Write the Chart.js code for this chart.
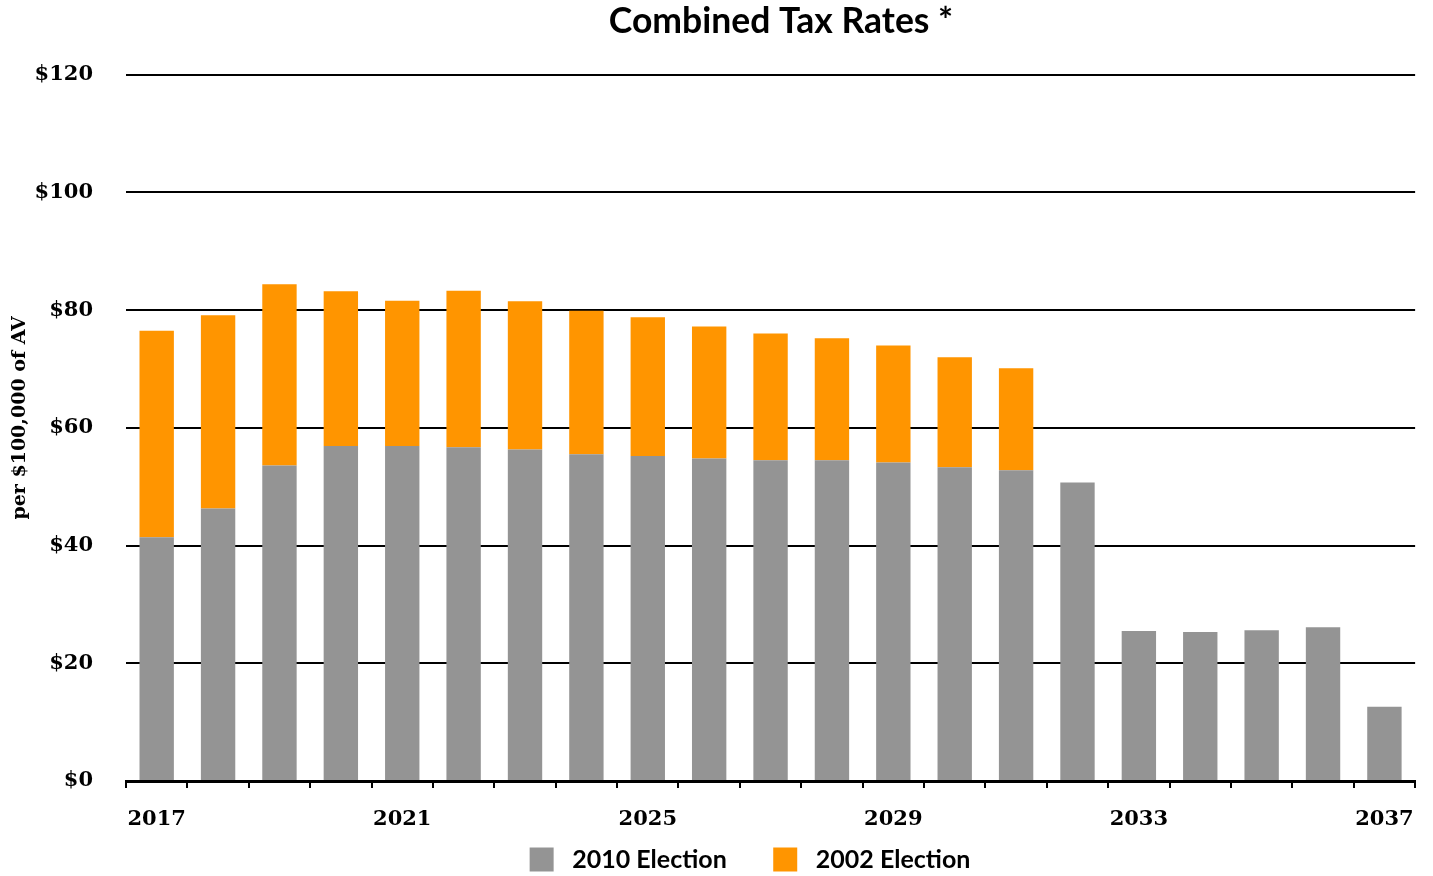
<!DOCTYPE html>
<html>
<head>
<meta charset="utf-8">
<script src="https://cdn.jsdelivr.net/npm/chart.js@4.4.0/dist/chart.umd.min.js"></script>
<style>
  html, body { margin: 0; padding: 0; background: #fff; }
  #wrap { width: 1433px; height: 876px; position: relative; }
</style>
</head>
<body>
<div id="wrap"><canvas id="myChart"></canvas></div>
<script>
// anos no eixo x
var years = ['2017','2018','2019','2020','2021','2022','2023','2024','2025','2026','2027',
             '2028','2029','2030','2031','2032','2033','2034','2035','2036','2037'];
// parcela da eleição de 2010 (cinza)
var election2010 = [41.4, 46.3, 53.6, 56.9, 56.9, 56.7, 56.3, 55.5, 55.2, 54.8, 54.5,
                    54.5, 54.1, 53.3, 52.8, 50.7, 25.5, 25.3, 25.6, 26.1, 12.6];
// parcela da eleição de 2002 (laranja)
var election2002 = [35.1, 32.8, 30.8, 26.3, 24.7, 26.6, 25.2, 24.4, 23.6, 22.4, 21.5,
                    20.7, 19.9, 18.7, 17.3, 0, 0, 0, 0, 0, 0];
// rótulos mostrados no eixo x
var shownYears = ['2017', '2021', '2025', '2029', '2033', '2037'];

var serif = "'DejaVu Serif', serif";
var sans = "Lato, 'Open Sans', sans-serif";

// desloca título e legenda para a direita (como no original)
var shiftPlugin = {
  id: 'shiftBlocks',
  afterLayout: function(chart) {
    if (chart.titleBlock) { chart.titleBlock.left += 72; chart.titleBlock.right += 72; }
    if (chart.legend) { chart.legend.left += 41; chart.legend.right += 41; }
  }
};

let ctx = document.getElementById('myChart');

new Chart(ctx, {
  type: 'bar',
  plugins: [shiftPlugin],
  data: {
    labels: years,
    datasets: [
      {
        label: '2010 Election',
        data: election2010,
        backgroundColor: '#949494',
        barPercentage: 0.56,
        categoryPercentage: 1
      },
      {
        label: '2002 Election',
        data: election2002,
        backgroundColor: '#ff9500',
        barPercentage: 0.56,
        categoryPercentage: 1
      }
    ]
  },
  options: {
    responsive: true,
    maintainAspectRatio: false,
    animation: false,
    layout: { padding: { left: 0, right: 15, top: 0, bottom: -6 } },
    plugins: {
      title: {
        display: true,
        text: 'Combined Tax Rates *',
        color: '#000',
        font: { family: sans, size: 35.5, weight: 'bold' },
        padding: { top: 0, bottom: 32 }
      },
      legend: {
        position: 'bottom',
        labels: {
          color: '#000',
          boxWidth: 24,
          boxHeight: 24,
          padding: 10,
          font: { family: sans, size: 25, weight: 'bold' },
          // espaços extras para afastar o texto da caixa e os itens entre si
          generateLabels: function(chart) {
            var items = Chart.defaults.plugins.legend.labels.generateLabels(chart);
            items.forEach(function(it, i) {
              it.text = ' ' + it.text + (i < items.length - 1 ? '      ' : '');
            });
            return items;
          }
        }
      },
      tooltip: { enabled: false }
    },
    scales: {
      x: {
        stacked: true,
        afterFit: function(scale) { scale.height = 56; },
        grid: {
          display: true,
          offset: true,
          drawOnChartArea: false,
          drawTicks: true,
          tickLength: 7,
          color: '#000',
          lineWidth: 2
        },
        border: { display: true, color: '#000', width: 3 },
        ticks: {
          autoSkip: false,
          maxRotation: 0,
          padding: 19,
          color: '#000',
          font: { family: serif, size: 21, weight: 'bold' },
          callback: function(v, i) {
            var y = years[i];
            return shownYears.indexOf(y) >= 0 ? y : '';
          }
        }
      },
      y: {
        stacked: true,
        min: 0,
        max: 120,
        afterFit: function(scale) { scale.width = 126; },
        grid: {
          color: '#000',
          lineWidth: 2,
          drawTicks: false
        },
        border: { display: false },
        ticks: {
          stepSize: 20,
          padding: 33,
          color: '#000',
          font: { family: serif, size: 21, weight: 'bold' },
          callback: function(v) { return '$' + v; }
        },
        title: {
          display: true,
          text: '   per $100,000 of AV',
          color: '#000',
          font: { family: serif, size: 19, weight: 'bold' },
          padding: { top: 9, bottom: 0 }
        }
      }
    }
  }
});
</script>
</body>
</html>
